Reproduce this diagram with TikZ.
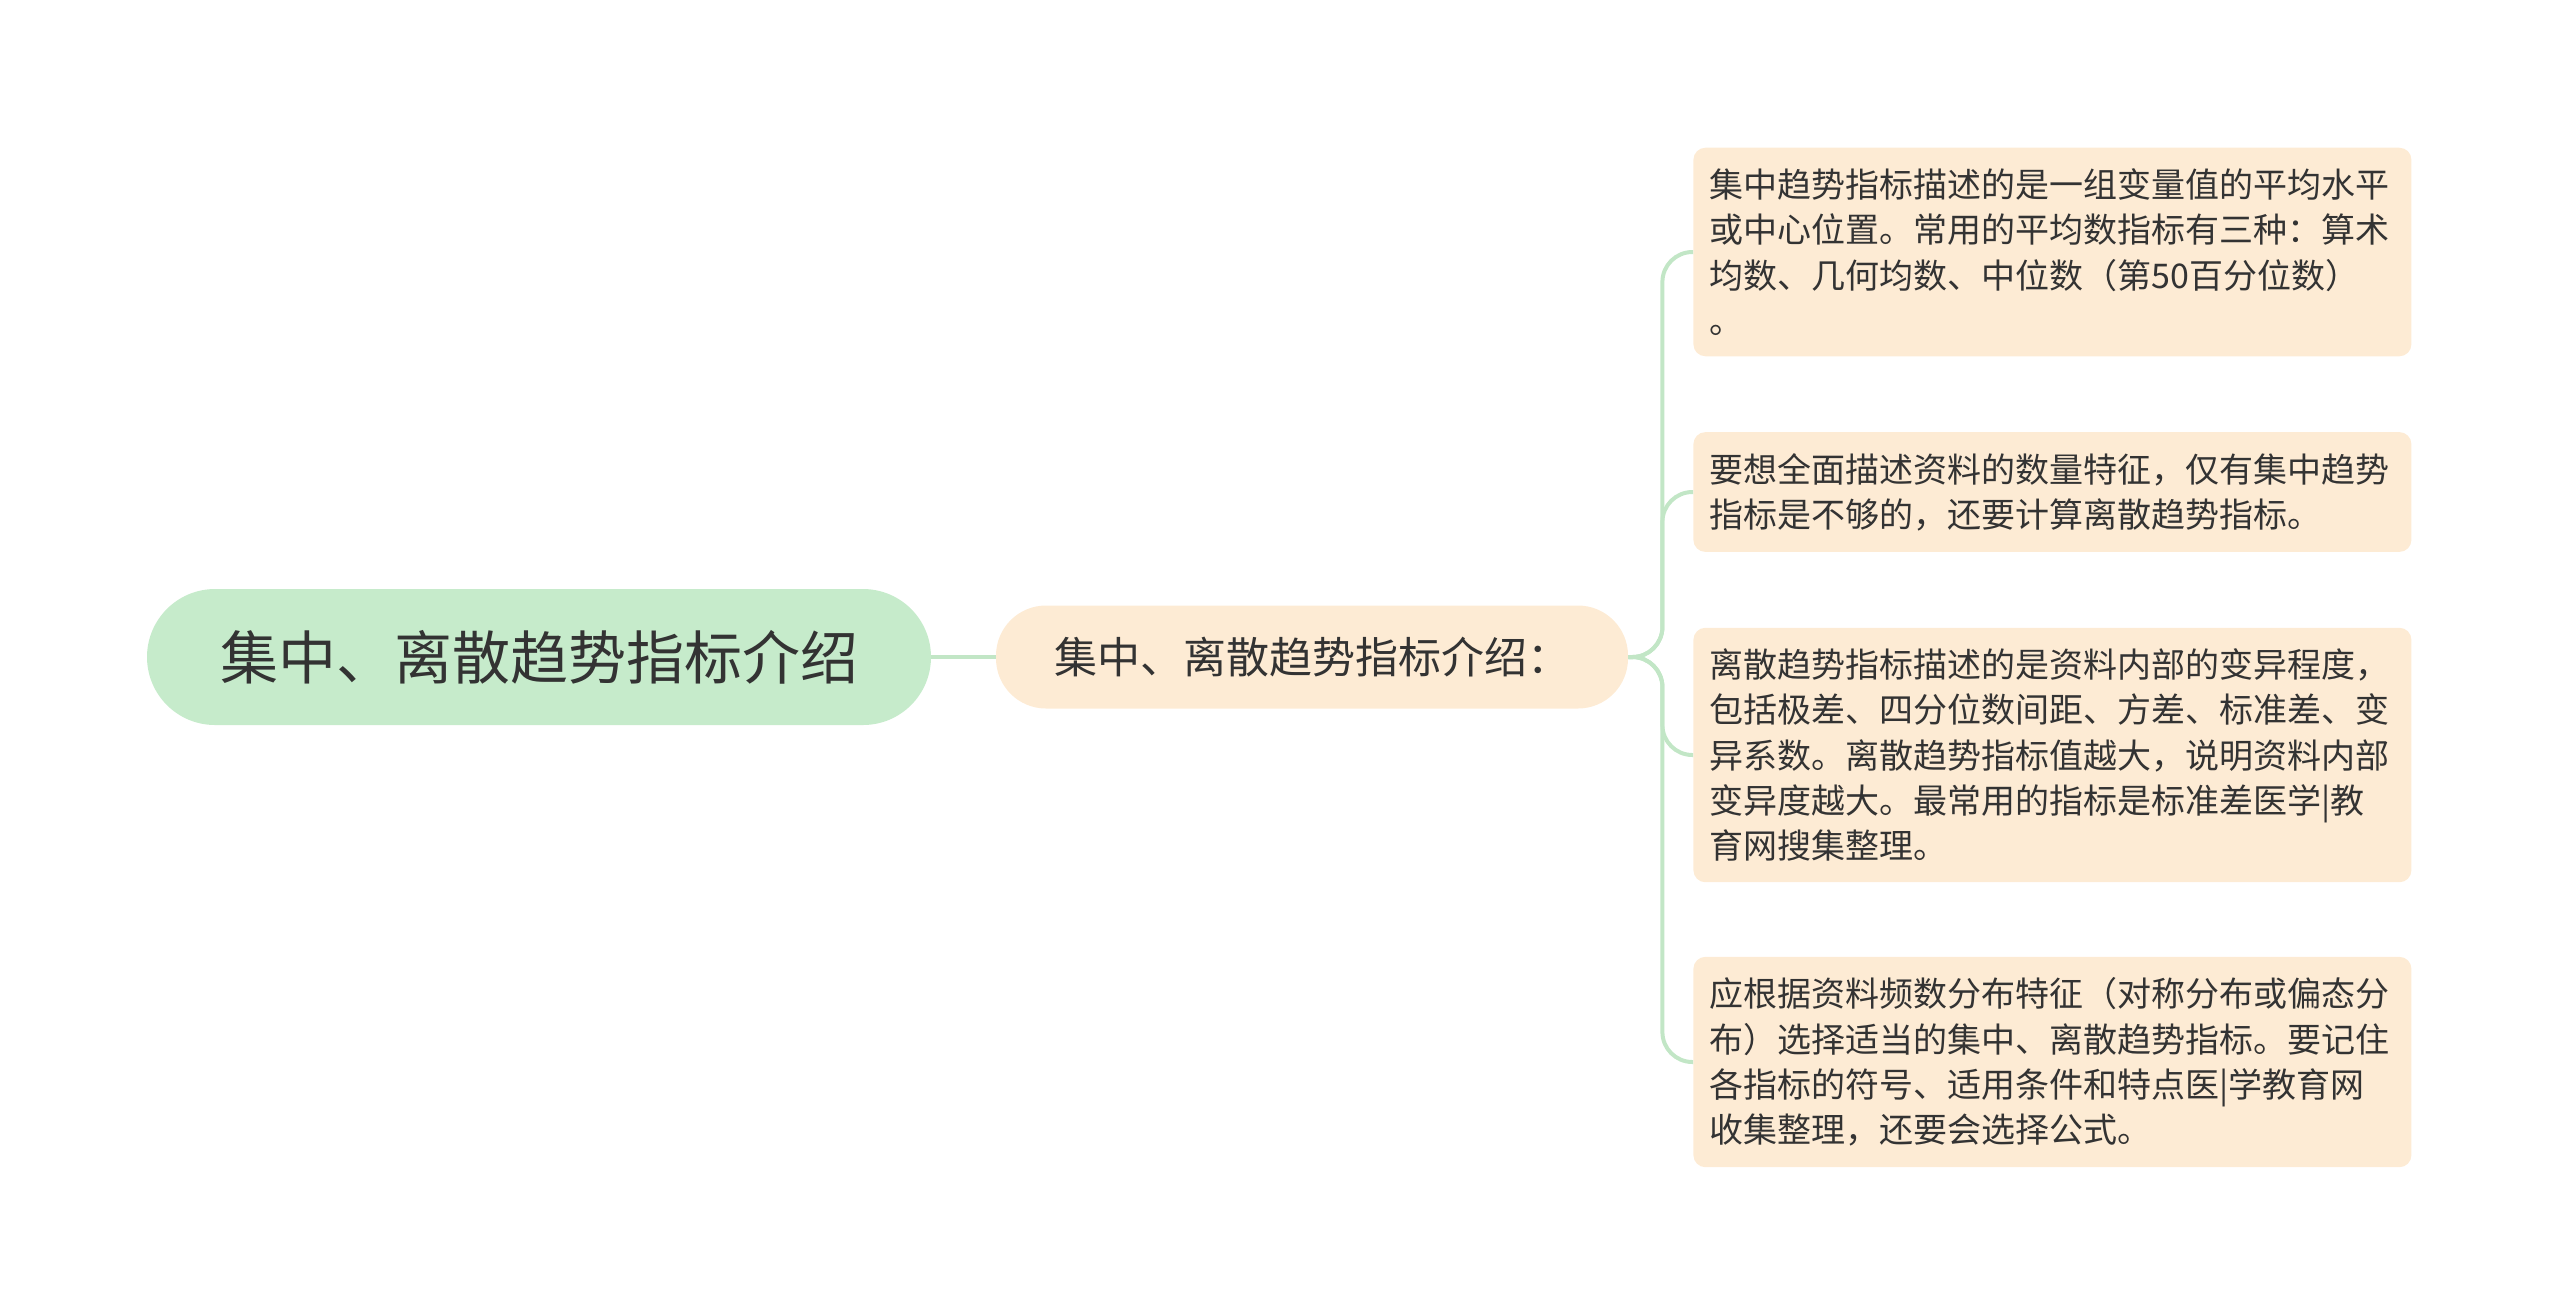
\documentclass[tikz,border=0pt]{standalone}
\usepackage{fontspec}
\setmainfont{Noto Sans CJK SC}
\definecolor{rootgreen}{HTML}{C6EBCB}
\definecolor{peach}{HTML}{FDEBD4}
\definecolor{linkgreen}{HTML}{C2E6C6}
\definecolor{textgray}{HTML}{333333}

\begin{document}
\begin{tikzpicture}[x=0.5pt, y=-0.5pt]
        % Define node styles
        \tikzstyle{root}=[fill=rootgreen, rounded corners=34pt, minimum width=392pt, minimum height=68pt, text=textgray, font=\fontsize{29}{34}\selectfont]
        \tikzstyle{topic}=[fill=peach, rounded corners=25pt, minimum width=316pt, minimum height=51.5pt, text=textgray, font=\fontsize{21.5}{26}\selectfont]
        \tikzstyle{desc}=[fill=peach, rounded corners=6pt, text width=343pt, inner xsep=8pt, inner ysep=10.5pt, align=left, anchor=west, text=textgray, font=\fontsize{17}{22.6}\selectfont]
        \tikzstyle{link}=[draw=linkgreen, line width=2pt, rounded corners=15pt]

        \useasboundingbox (0,0) rectangle (2560,1314);

        % Root and topic
        \node [root] (root) at (539,657) {集中、离散趋势指标介绍};
        \node [topic] (topic) at (1312,657) {集中、离散趋势指标介绍：};

        % Description boxes
        \foreach \m/\y/\t in {
            1/252/{集中趋势指标描述的是一组变量值的平均水平\\或中心位置。常用的平均数指标有三种：算术\\均数、几何均数、中位数（第50百分位数）\\。},
            2/492/{要想全面描述资料的数量特征，仅有集中趋势\\指标是不够的，还要计算离散趋势指标。},
            3/755/{离散趋势指标描述的是资料内部的变异程度，\\包括极差、四分位数间距、方差、标准差、变\\异系数。离散趋势指标值越大，说明资料内部\\变异度越大。最常用的指标是标准差医学|教\\育网搜集整理。},
            4/1062/{应根据资料频数分布特征（对称分布或偏态分\\布）选择适当的集中、离散趋势指标。要记住\\各指标的符号、适用条件和特点医|学教育网\\收集整理，还要会选择公式。}}
            \node [desc] (desc-\m) at (1693,\y) {\t};

        % Connect root with topic
        \draw [link] (root) -- (topic);

        % Connect topic with description boxes
        \foreach \m in {1,2,3,4}
            \draw [link] (topic.east) -- ++(34,0) |- (desc-\m.west);
    \end{tikzpicture}
\end{document}
